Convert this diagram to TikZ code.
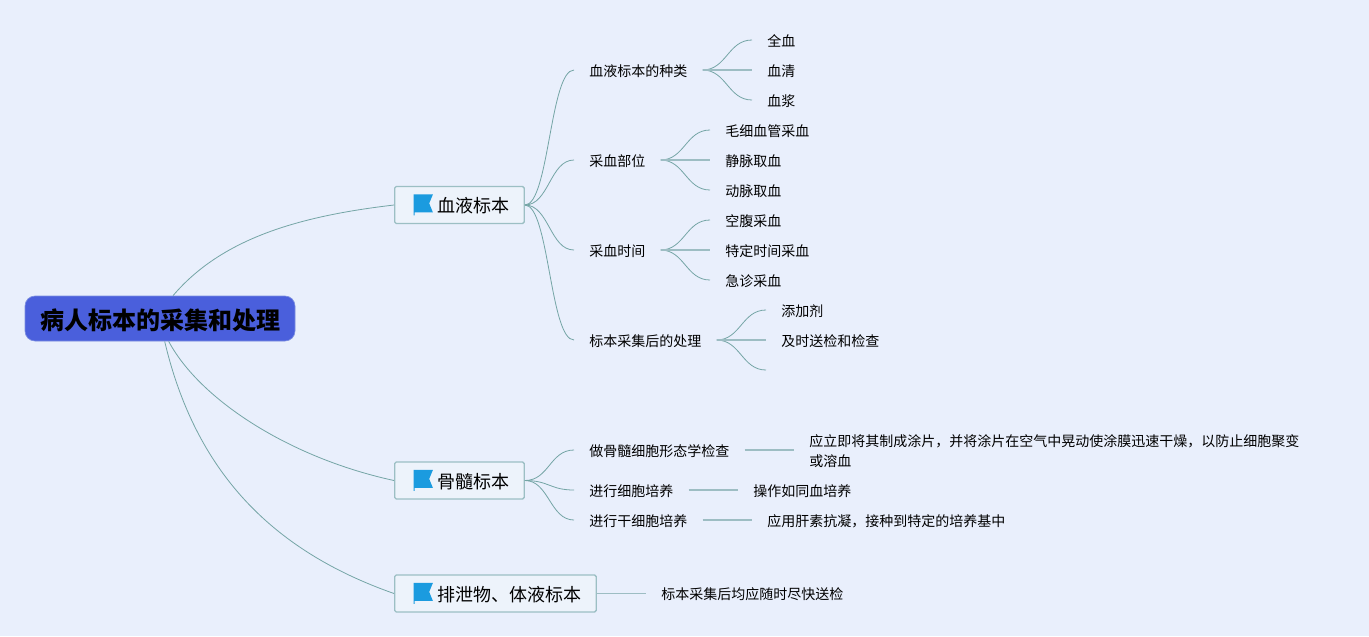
\documentclass[tikz,border=0pt]{standalone}
\usepackage{fontspec}
\setmainfont{Noto Sans CJK SC}
\definecolor{pagebg}{HTML}{E9EFFC}
\definecolor{rootblue}{HTML}{4A5FDC}
\definecolor{rootedge}{HTML}{7C8FE0}
\definecolor{boxfill}{HTML}{EDF3FB}
\definecolor{boxedge}{HTML}{9CBFC4}
\definecolor{flagblue}{HTML}{1B9BDF}
\definecolor{curveline}{HTML}{74A5A5}
\definecolor{flatline}{HTML}{9DBDC3}
\begin{document}
\begin{tikzpicture}[x=0.75pt,y=-0.75pt]
		\tikzstyle{root}=[draw=rootedge,fill=rootblue,rounded corners=7.5pt,line width=0.5pt,minimum width=202.5pt,minimum height=33.75pt,inner sep=0pt,text height=18pt,text depth=2.1pt,font=\fontsize{18}{22}\selectfont\bfseries]
		\tikzstyle{topic}=[draw=boxedge,fill=boxfill,rounded corners=1.2pt,line width=1pt,anchor=west,minimum height=27.75pt,inner ysep=0pt,inner xsep=10.95pt,text height=13.5pt,text depth=1.6pt,font=\fontsize{13.5}{16}\selectfont,execute at begin node={\hspace*{21.3pt}},
			path picture={\fill[flagblue,sharp corners] ([xshift=14.2pt,yshift=8pt]path picture bounding box.west) -- ++(14.5pt,0) -- ++(-2.8pt,-6.8pt) -- ++(2.8pt,-6.8pt) -- ++(-13.8pt,0) -- ++(0,-2.2pt) -- ++(-0.7pt,0) -- cycle;}]
		\tikzstyle{leaf}=[anchor=west,inner xsep=11.25pt,inner ysep=1pt,text height=10.5pt,text depth=1.2pt,align=left,font=\fontsize{10.5}{15}\selectfont]
		\tikzstyle{curve}=[draw=curveline,line width=0.6pt]
		\tikzstyle{flat}=[draw=flatline,line width=1.1pt]
		\fill[pagebg] (0,0) rectangle (1369,636);
		\useasboundingbox (0,0) rectangle (1369,636);
		\node[root] (root) at (160,318.5) {病人标本的采集和处理};
		\node[topic] (t_1) at (394,205) {血液标本};
		\node[topic] (t_2) at (394,480.5) {骨髓标本};
		\node[topic] (t_3) at (394,593.5) {排泄物、体液标本};
		\node[leaf] (s_1) at (574,70) {血液标本的种类};
		\node[leaf] (s_2) at (574,160) {采血部位};
		\node[leaf] (s_3) at (574,250) {采血时间};
		\node[leaf] (s_4) at (574,340) {标本采集后的处理};
		\node[leaf] (s_5) at (574,450) {做骨髓细胞形态学检查};
		\node[leaf] (s_6) at (574,490) {进行细胞培养};
		\node[leaf] (s_7) at (574,520) {进行干细胞培养};
		\node[leaf] (l_1) at (752,40) {全血};
		\node[leaf] (l_2) at (752,70) {血清};
		\node[leaf] (l_3) at (752,100) {血浆};
		\node[leaf] (l_4) at (710,130) {毛细血管采血};
		\node[leaf] (l_5) at (710,160) {静脉取血};
		\node[leaf] (l_6) at (710,190) {动脉取血};
		\node[leaf] (l_7) at (710,220) {空腹采血};
		\node[leaf] (l_8) at (710,250) {特定时间采血};
		\node[leaf] (l_9) at (710,280) {急诊采血};
		\node[leaf] (l_10) at (766,310) {添加剂};
		\node[leaf] (l_11) at (766,340) {及时送检和检查};
		\coordinate (l_12) at (766,370);
		\node[leaf,text height=25.5pt] (l_13) at (794,450) {应立即将其制成涂片，并将涂片在空气中晃动使涂膜迅速干燥，以防止细胞聚变\\或溶血};
		\node[leaf] (l_14) at (738,490) {操作如同血培养};
		\node[leaf] (l_15) at (752,520) {应用肝素抗凝，接种到特定的培养基中};
		\node[leaf] (l_16) at (646,593.5) {标本采集后均应随时尽快送检};
		% from the root
		\draw[curve] ([xshift=9.75pt]root.north) .. controls (222,238) and (300,216) .. (t_1.west);
		\draw[curve] ([xshift=6.5pt]root.south) .. controls (200,400) and (290,458) .. (t_2.west);
		\draw[curve] ([xshift=3.5pt]root.south) .. controls (195,470) and (270,550) .. (t_3.west);
		% curved branches
		\foreach \a/\b in {t_1/s_1,t_1/s_2,t_1/s_3,t_1/s_4,t_2/s_5,t_2/s_6,t_2/s_7,s_1/l_1,s_1/l_3,s_2/l_4,s_2/l_6,s_3/l_7,s_3/l_9,s_4/l_10}
			\draw[curve] (\a.east) .. controls +(24,0) and +(-24,0) .. (\b.west);
		\draw[curve] (s_4.east) .. controls +(24,0) and +(-24,0) .. (l_12);
		% straight branches
		\foreach \a/\b in {s_1/l_2,s_2/l_5,s_3/l_8,s_4/l_11,s_5/l_13,s_6/l_14,s_7/l_15,t_3/l_16}
			\draw[flat] (\a.east) -- (\b.west);
	\end{tikzpicture}
\end{document}
